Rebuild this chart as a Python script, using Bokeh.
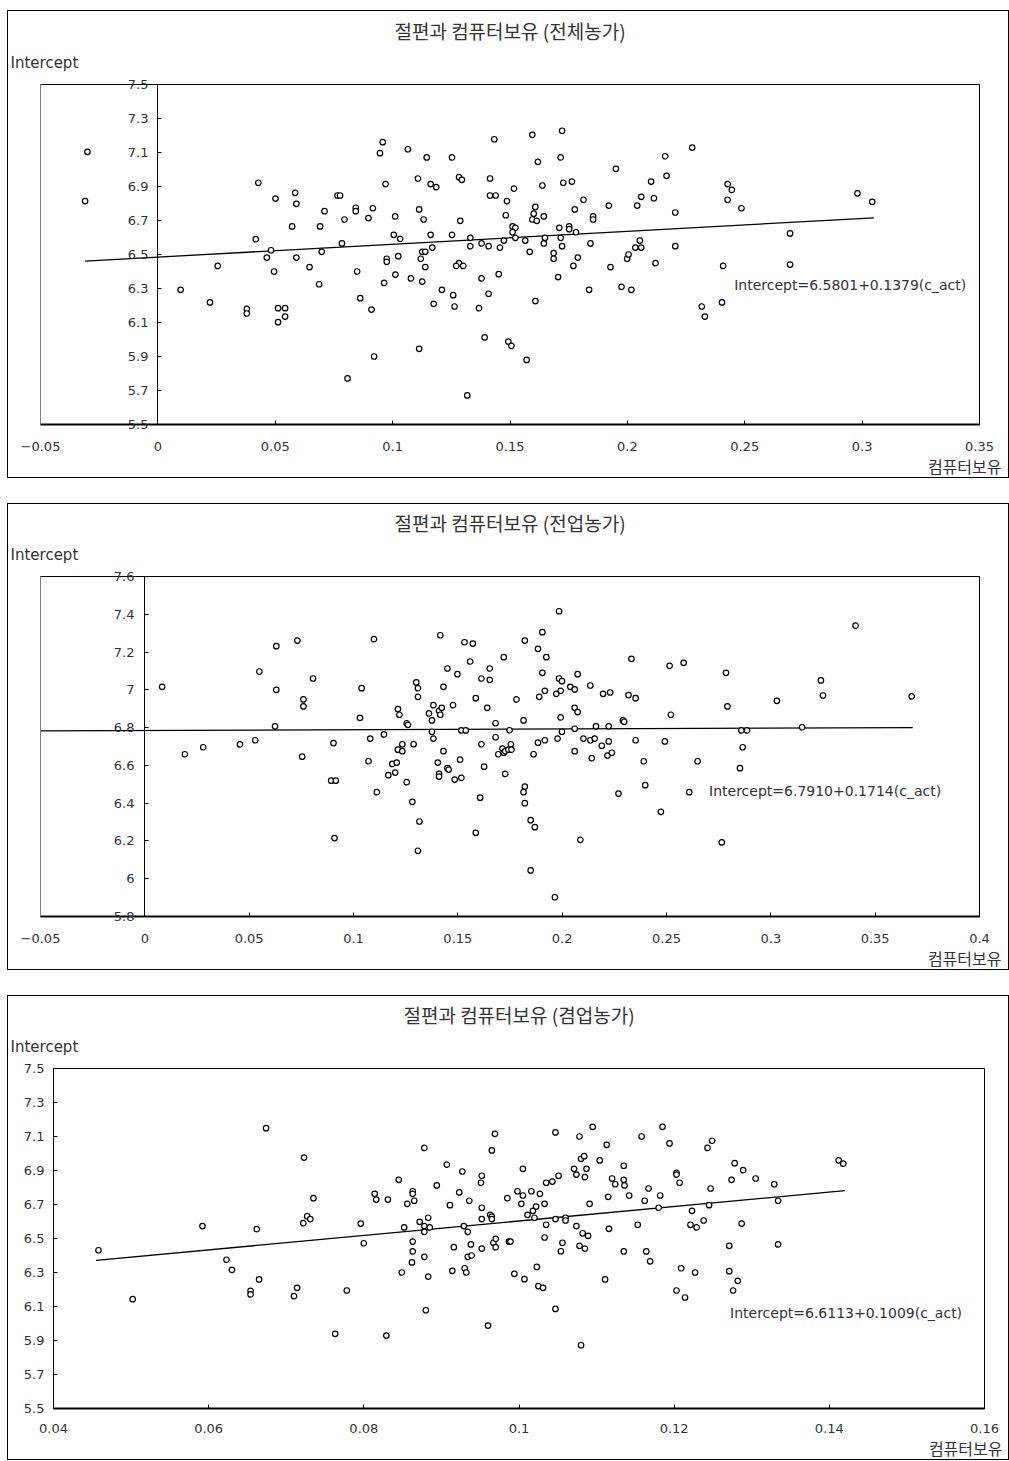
from bokeh.plotting import figure
from bokeh.models import Range1d, FixedTicker, Title, Label, LinearAxis
from bokeh.embed import file_html
from bokeh.resources import INLINE

# ---------------- Panel 1 : 전체농가 ----------------
p1_title = "절편과 컴퓨터보유 (전체농가)"
p1_eq = "Intercept=6.5801+0.1379(c_act)"
p1_x = [-0.030, -0.031, 0.0097, 0.0222, 0.0255, 0.0379, 0.0379, 0.0417, 0.0464, 0.0482,
        0.0495, 0.0512, 0.0542, 0.0542, 0.0512, 0.059, 0.0646, 0.0687, 0.0698, 0.0428,
        0.0501, 0.0585, 0.059, 0.071, 0.0572, 0.0691, 0.298, 0.3043,
        0.0765, 0.0776, 0.0795, 0.0784, 0.0808, 0.0843, 0.0843, 0.0849, 0.0862, 0.0897,
        0.0916, 0.091, 0.0921, 0.0946, 0.0958, 0.097, 0.0964, 0.0975, 0.0975, 0.1005,
        0.1032, 0.1011, 0.1012, 0.1024, 0.1065, 0.1078, 0.1108, 0.1113, 0.1132, 0.1113,
        0.112, 0.1126, 0.1139, 0.1139, 0.1126, 0.1145, 0.1162, 0.1186, 0.1162, 0.1169,
        0.1175, 0.121, 0.1253, 0.1253, 0.1258, 0.1264, 0.1283, 0.1295, 0.1288, 0.1283,
        0.1271, 0.1301, 0.1331, 0.1331, 0.1318, 0.1368, 0.1379, 0.1379, 0.1392, 0.1409,
        0.1409, 0.1415, 0.1415, 0.1439, 0.1433, 0.1452, 0.1457, 0.1474, 0.1482, 0.1487,
        0.1493, 0.1506, 0.1511, 0.1523, 0.1511, 0.1523, 0.1517, 0.1565, 0.1571, 0.1584,
        0.1595, 0.1595, 0.1614, 0.1601, 0.1608, 0.1608, 0.1619, 0.1638, 0.1644, 0.1644,
        0.1649, 0.1686, 0.1686, 0.1705, 0.171, 0.1716, 0.1722, 0.1716, 0.1727, 0.1722,
        0.1752, 0.1752, 0.1764, 0.177, 0.1781, 0.1789, 0.1776, 0.1813, 0.1843, 0.1837,
        0.1854, 0.1854, 0.1921, 0.1928, 0.1951, 0.1975, 0.2017, 0.1999, 0.2005, 0.2034,
        0.2059, 0.2053, 0.2042, 0.2059, 0.2101, 0.2113, 0.212, 0.2161, 0.2167, 0.2204,
        0.2204, 0.2276, 0.2317, 0.233, 0.2403, 0.2408, 0.2427, 0.2445, 0.2427, 0.2486,
        0.2693, 0.2693]
p1_y = [7.104, 6.814, 6.292, 6.218, 6.433, 6.18, 6.153, 6.59, 6.482, 6.525,
        6.40, 6.184, 6.184, 6.135, 6.102, 6.482, 6.426, 6.325, 6.516, 6.922,
        6.829, 6.863, 6.798, 6.755, 6.665, 6.665, 6.86, 6.81,
        6.847, 6.847, 6.706, 6.565, 5.771, 6.775, 6.755, 6.40, 6.243, 6.714,
        6.772, 6.176, 5.90, 7.096, 7.161, 6.914, 6.333, 6.475, 6.457, 6.616,
        6.592, 6.724, 6.382, 6.49, 7.119, 6.359, 6.947, 6.765, 6.706, 5.945,
        6.475, 6.516, 6.516, 6.426, 6.341, 7.071, 6.914, 6.896, 6.616, 6.541,
        6.21, 6.292, 7.071, 6.616, 6.261, 6.194, 6.955, 6.939, 6.698, 6.449,
        6.433, 6.433, 6.598, 6.549, 5.671, 6.184, 6.565, 6.359, 6.012, 6.549,
        6.269, 6.947, 6.847, 6.847, 7.178, 6.384, 6.541, 6.582, 6.731, 6.814,
        5.988, 5.963, 6.665, 6.657, 6.631, 6.598, 6.888, 6.582, 5.88, 6.516,
        7.204, 6.706, 6.698, 6.74, 6.78, 6.226, 7.045, 6.906, 6.724, 6.565,
        6.598, 6.508, 6.475, 6.367, 6.657, 6.598, 7.228, 7.071, 6.922, 6.549,
        6.665, 6.649, 6.929, 6.433, 6.631, 6.482, 6.765, 6.822, 6.565, 6.292,
        6.724, 6.706, 6.788, 6.426, 7.004, 6.31, 6.292, 6.475, 6.50, 6.541,
        6.541, 6.582, 6.788, 6.839, 6.929, 6.831, 6.449, 7.078, 6.963, 6.747,
        6.549, 7.129, 6.194, 6.135, 6.218, 6.433, 6.914, 6.88, 6.822, 6.772,
        6.624, 6.441]
p1_fit_x = [-0.031, 0.305]
p1_fit_y = [6.461, 6.716]
p1_x_ticks = [-0.05, 0, 0.05, 0.1, 0.15, 0.2, 0.25, 0.3, 0.35]
p1_x_labels = ["\u22120.05", "0", "0.05", "0.1", "0.15", "0.2", "0.25", "0.3", "0.35"]
p1_y_ticks = [5.5, 5.7, 5.9, 6.1, 6.3, 6.5, 6.7, 6.9, 7.1, 7.3, 7.5]
p1_y_labels = ["5.5", "5.7", "5.9", "6.1", "6.3", "6.5", "6.7", "6.9", "7.1", "7.3", "7.5"]

# ---------------- Panel 2 : 전업농가 ----------------
p2_title = "절편과 컴퓨터보유 (전업농가)"
p2_eq = "Intercept=6.7910+0.1714(c_act)"
p2_x = [0.0083, 0.0549, 0.063, 0.0731, 0.0806, 0.063, 0.076, 0.076, 0.0624, 0.0192,
        0.028, 0.0456, 0.0529, 0.0754, 0.315, 0.324, 0.325, 0.3406, 0.3675,
        0.0904, 0.0893, 0.0915, 0.0909, 0.1031, 0.1039, 0.108, 0.1072, 0.1098, 0.1112,
        0.1146, 0.1167, 0.1186, 0.1207, 0.12, 0.1213, 0.122, 0.1213, 0.1234, 0.1234,
        0.1255, 0.1261, 0.1255, 0.1282, 0.1288, 0.1301, 0.1309, 0.1309, 0.1316, 0.1309,
        0.1362, 0.1376, 0.1376, 0.1383, 0.1383, 0.141, 0.1423, 0.1416, 0.1416, 0.1431,
        0.1431, 0.1404, 0.141, 0.141, 0.145, 0.145, 0.1456, 0.1477, 0.1485, 0.1498,
        0.1511, 0.1517, 0.1517, 0.1538, 0.1532, 0.1572, 0.1559, 0.1586, 0.1586, 0.1607,
        0.1613, 0.1613, 0.1626, 0.1641, 0.1653, 0.1653, 0.1681, 0.1681, 0.1694, 0.1714,
        0.172, 0.1727, 0.1742, 0.1754, 0.1757, 0.172, 0.1727, 0.1748, 0.1781, 0.1815,
        0.1821, 0.1821, 0.1815, 0.1821, 0.1849, 0.1869, 0.1849, 0.1863, 0.1884, 0.1884,
        0.189, 0.1905, 0.1905, 0.1917, 0.1917, 0.1924, 0.1965, 0.1972, 0.1993, 0.1978,
        0.1985, 0.1985, 0.1999, 0.1993, 0.1999, 0.2039, 0.206, 0.206, 0.2074, 0.206,
        0.206, 0.2074, 0.2087, 0.2102, 0.2135, 0.2135, 0.2156, 0.2142, 0.2162, 0.219,
        0.2196, 0.223, 0.2223, 0.2223, 0.2217, 0.2238, 0.227, 0.2291, 0.2297, 0.2318,
        0.2332, 0.2352, 0.2352, 0.2391, 0.2398, 0.2473, 0.2492, 0.2515, 0.2521, 0.2582,
        0.2609, 0.2649, 0.2765, 0.2785, 0.2792, 0.2852, 0.2859, 0.2886, 0.2865, 0.3029]
p2_y = [7.016, 7.097, 7.231, 7.261, 7.06, 7.0, 6.949, 6.912, 6.807, 6.659,
        6.696, 6.711, 6.733, 6.646, 6.802, 7.05, 6.97, 7.34, 6.965,
        6.718, 6.519, 6.519, 6.215, 6.852, 7.009, 6.742, 6.622, 7.268, 6.458,
        6.764, 6.548, 6.608, 6.615, 6.562, 6.898, 6.868, 6.683, 6.675, 6.712,
        6.823, 6.815, 6.511, 6.407, 6.712, 7.039, 7.009, 6.963, 6.303, 6.148,
        6.875, 6.838, 6.778, 6.919, 6.742, 6.889, 6.905, 6.868, 7.289, 7.016,
        6.675, 6.615, 6.555, 6.541, 7.113, 6.585, 6.578, 6.919, 6.525, 7.083,
        6.630, 6.534, 6.785, 6.785, 7.252, 7.245, 7.15, 6.956, 6.243, 6.429,
        7.06, 6.712, 6.593, 6.905, 7.113, 7.053, 6.823, 6.749, 6.659, 6.689,
        6.667, 6.675, 6.683, 6.712, 6.683, 7.173, 6.555, 6.786, 6.949, 6.838,
        7.261, 6.488, 6.458, 6.4, 6.31, 6.273, 6.044, 6.659, 6.720, 7.217,
        6.963, 7.305, 7.09, 6.733, 6.995, 7.173, 5.902, 6.979, 6.995, 6.742,
        7.416, 7.06, 7.046, 6.854, 6.778, 7.016, 7.002, 6.905, 6.882, 6.794,
        6.675, 7.083, 6.206, 6.742, 7.023, 6.733, 6.742, 6.638, 6.807, 6.704,
        6.979, 6.986, 6.807, 6.727, 6.652, 6.667, 6.451, 6.838, 6.831, 6.972,
        7.164, 6.956, 6.733, 6.622, 6.495, 6.354, 6.727, 7.127, 6.868, 7.143,
        6.458, 6.622, 6.192, 7.09, 6.912, 6.585, 6.785, 6.785, 6.696, 6.942]
p2_fit_x = [-0.05, 0.368]
p2_fit_y = [6.783, 6.800]
p2_x_ticks = [-0.05, 0, 0.05, 0.1, 0.15, 0.2, 0.25, 0.3, 0.35, 0.4]
p2_x_labels = ["\u22120.05", "0", "0.05", "0.1", "0.15", "0.2", "0.25", "0.3", "0.35", "0.4"]
p2_y_ticks = [5.8, 6.0, 6.2, 6.4, 6.6, 6.8, 7.0, 7.2, 7.4, 7.6]
p2_y_labels = ["5.8", "6", "6.2", "6.4", "6.6", "6.8", "7", "7.2", "7.4", "7.6"]

# ---------------- Panel 3 : 겸업농가 ----------------
p3_title = "절편과 컴퓨터보유 (겸업농가)"
p3_eq = "Intercept=6.6113+0.1009(c_act)"
p3_x = [0.0674, 0.0723, 0.0735, 0.0727, 0.0731, 0.0722, 0.0592, 0.0662, 0.0458, 0.0502,
        0.0623, 0.063, 0.0665, 0.0654, 0.0654, 0.071, 0.0714, 0.1412, 0.1418,
        0.0763, 0.0778, 0.0796, 0.080, 0.0814, 0.0816, 0.0831, 0.0829, 0.0845, 0.0849,
        0.0852, 0.0856, 0.0862, 0.0863, 0.0863, 0.0865, 0.0863, 0.0863, 0.0872, 0.0878,
        0.0878, 0.0878, 0.0878, 0.088, 0.0883, 0.0885, 0.0883, 0.0894, 0.0907, 0.0911,
        0.0914, 0.0916, 0.0923, 0.0927, 0.0929, 0.0934, 0.093, 0.0932, 0.0936, 0.0938,
        0.0934, 0.0939, 0.0951, 0.0952, 0.0952, 0.0952, 0.0952, 0.096, 0.0963, 0.0965,
        0.0965, 0.0965, 0.0969, 0.0967, 0.097, 0.097, 0.0985, 0.0987, 0.0989, 0.0994,
        0.0998, 0.1003, 0.1005, 0.1005, 0.1007, 0.1011, 0.1016, 0.1018, 0.1022, 0.102,
        0.1023, 0.1025, 0.1031, 0.1027, 0.1033, 0.1033, 0.1035, 0.1035, 0.1043, 0.1047,
        0.1047, 0.1047, 0.1051, 0.1054, 0.1056, 0.106, 0.106, 0.1071, 0.1074, 0.1074,
        0.1078, 0.108, 0.1084, 0.1085, 0.1087, 0.1078, 0.1085, 0.1082, 0.1089, 0.108,
        0.1091, 0.1095, 0.1104, 0.1111, 0.1113, 0.1115, 0.1116, 0.112, 0.1124, 0.1135,
        0.1135, 0.1136, 0.1135, 0.1142, 0.1153, 0.1158, 0.1162, 0.1164, 0.1167, 0.1169,
        0.118, 0.1182, 0.1185, 0.1194, 0.1203, 0.1203, 0.1207, 0.1203, 0.1209, 0.1214,
        0.1221, 0.1229, 0.1223, 0.1227, 0.1238, 0.1243, 0.1249, 0.1245, 0.1247, 0.1271,
        0.1271, 0.1274, 0.1278, 0.1282, 0.1276, 0.1287, 0.1289, 0.1305, 0.1329, 0.1334,
        0.1334]
p3_y = [7.149, 6.976, 6.737, 6.631, 6.614, 6.59, 6.573, 6.555, 6.431, 6.143,
        6.375, 6.316, 6.259, 6.192, 6.171, 6.161, 6.21, 6.96, 6.94,
        5.939, 6.194, 6.588, 6.472, 6.763, 6.729, 6.729, 5.929, 6.845, 6.3,
        6.565, 6.704, 6.359, 6.778, 6.763, 6.722, 6.482, 6.424, 6.598, 7.033,
        6.573, 6.539, 6.392, 6.078, 6.622, 6.565, 6.276, 6.812, 6.935, 6.696,
        6.31, 6.449, 6.771, 6.894, 6.573, 6.539, 6.325, 6.3, 6.722, 6.465,
        6.392, 6.4, 6.828, 6.869, 6.681, 6.614, 6.441, 5.988, 6.639, 6.629,
        6.614, 7.018, 7.116, 6.475, 6.498, 6.449, 6.737, 6.482, 6.482, 6.292,
        6.778, 6.704, 6.753, 6.91, 6.261, 6.639, 6.778, 6.663, 6.688, 6.622,
        6.333, 6.22, 6.210, 6.763, 6.704, 6.506, 6.581, 6.828, 6.835, 7.124,
        6.614, 6.086, 6.869, 6.425, 6.475, 6.622, 6.606, 6.91, 6.876, 6.573,
        7.1, 6.969, 6.984, 6.861, 6.91, 6.457, 6.441, 6.531, 6.516, 5.872,
        6.704, 7.157, 6.959, 6.259, 7.051, 6.745, 6.557, 6.853, 6.819, 6.928,
        6.845, 6.812, 6.424, 6.753, 6.581, 7.1, 6.722, 6.424, 6.794, 6.366,
        6.681, 6.753, 7.157, 7.059, 6.886, 6.876, 6.828, 6.194, 6.325, 6.153,
        6.581, 6.565, 6.663, 6.3, 6.606, 7.033, 7.075, 6.696, 6.794, 6.457,
        6.308, 6.845, 6.943, 6.251, 6.194, 6.588, 6.902, 6.853, 6.819, 6.722,
        6.465]
p3_fit_x = [0.0455, 0.142]
p3_fit_y = [6.371, 6.782]
p3_x_ticks = [0.04, 0.06, 0.08, 0.1, 0.12, 0.14, 0.16]
p3_x_labels = ["0.04", "0.06", "0.08", "0.1", "0.12", "0.14", "0.16"]
p3_y_ticks = [5.5, 5.7, 5.9, 6.1, 6.3, 6.5, 6.7, 6.9, 7.1, 7.3, 7.5]
p3_y_labels = ["5.5", "5.7", "5.9", "6.1", "6.3", "6.5", "6.7", "6.9", "7.1", "7.3", "7.5"]

X_NAME = "컴퓨터보유"
Y_NAME = "Intercept"

TXT = "#333333"
NUM_FONT = "DejaVu Sans"
KR_FONT = "Noto Sans CJK KR"


def make_panel(title, xs, ys, fx, fy, xt, xl, yt, yl, x_rng, y_rng, zero_axis,
               ylab_standoff, eq, eq_x, eq_y, h, bl, br, bt, bb, int_off,
               xlab_off, top_margin, xlab_standoff):
    p = figure(width=1002, height=h, x_range=Range1d(*x_rng), y_range=Range1d(*y_rng),
               output_backend="svg", toolbar_location=None, title=None,
               min_border_left=bl, min_border_right=br, min_border_top=bt,
               min_border_bottom=bb, margin=(top_margin, 0, 0, 7))
    p.styles = {"border": "1px solid black", "box-sizing": "border-box"}
    p.grid.visible = False
    p.outline_line_color = "black"
    p.outline_line_width = 1
    p.background_fill_color = "white"
    p.border_fill_color = "white"

    # x axis
    xa = p.xaxis[0]
    xa.ticker = FixedTicker(ticks=xt)
    xa.major_label_overrides = dict(zip(xt, xl))
    xa.axis_line_width = 2
    xa.axis_line_color = "black"
    xa.major_tick_in = 4
    xa.major_tick_out = 0
    xa.minor_tick_line_color = None
    xa.major_label_standoff = xlab_standoff
    xa.major_label_text_font = NUM_FONT
    xa.major_label_text_font_size = "13px"
    xa.major_label_text_color = TXT

    # y axis (labels)
    ya = p.yaxis[0]
    ya.ticker = FixedTicker(ticks=yt)
    ya.major_label_overrides = dict(zip(yt, yl))
    ya.minor_tick_line_color = None
    ya.major_label_standoff = ylab_standoff
    ya.major_label_text_font = NUM_FONT
    ya.major_label_text_font_size = "13px"
    ya.major_label_text_color = TXT
    if zero_axis:
        # frame edge: grey line, no ticks; labels drawn next to the x=0 axis
        ya.axis_line_color = "#808080"
        ya.major_tick_line_color = None
        za = LinearAxis(fixed_location=0, ticker=FixedTicker(ticks=yt),
                        major_label_overrides={t: "" for t in yt},
                        major_label_text_font_size="0px", major_label_standoff=0,
                        axis_line_color="black", major_tick_in=4, major_tick_out=0,
                        minor_tick_line_color=None)
        p.add_layout(za, "left")
    else:
        ya.axis_line_color = "black"
        ya.major_tick_in = 4
        ya.major_tick_out = 0

    p.line(fx, fy, line_color="black", line_width=1.3)
    p.scatter(xs, ys, marker="circle", size=5.5, fill_color="white",
              line_color="black", line_width=1.2)

    p.add_layout(Label(x=eq_x, y=eq_y, text=eq, text_font=NUM_FONT,
                       text_font_size="14px", text_color=TXT,
                       text_baseline="middle"))

    p.add_layout(Title(text=Y_NAME, align="left", offset=int_off, text_font=NUM_FONT,
                       text_font_size="15px", text_font_style="normal",
                       text_color=TXT, standoff=25), "above")
    p.add_layout(Title(text=title, align="center", text_font=KR_FONT,
                       text_font_size="19px", text_font_style="normal",
                       text_color=TXT, standoff=-13, vertical_align="top"), "above")
    p.add_layout(Title(text=X_NAME, align="right", offset=xlab_off, text_font=KR_FONT,
                       text_font_size="16px", text_font_style="normal",
                       text_color=TXT, standoff=0, vertical_align="top"), "below")
    return p


p1 = make_panel(p1_title, p1_x, p1_y, p1_fit_x, p1_fit_y, p1_x_ticks, p1_x_labels,
                p1_y_ticks, p1_y_labels, (-0.05, 0.35), (5.5, 7.5), True, -114,
                p1_eq, 0.2455, 6.318, 468, 32, 31, 73, 54, -30, -22, 10, 17)
p2 = make_panel(p2_title, p2_x, p2_y, p2_fit_x, p2_fit_y, p2_x_ticks, p2_x_labels,
                p2_y_ticks, p2_y_labels, (-0.05, 0.4), (5.8, 7.6), True, -100,
                p2_eq, 0.2704, 6.467, 467, 32, 31, 72, 53, -30, -22, 25, 17)
p3 = make_panel(p3_title, p3_x, p3_y, p3_fit_x, p3_fit_y, p3_x_ticks, p3_x_labels,
                p3_y_ticks, p3_y_labels, (0.04, 0.16), (5.5, 7.5), False, 9,
                p3_eq, 0.1272, 6.059, 465, 45, 26, 72, 51, -43, -18, 25, 15)

open("out.html", "w").write(file_html([p1, p2, p3], INLINE))
